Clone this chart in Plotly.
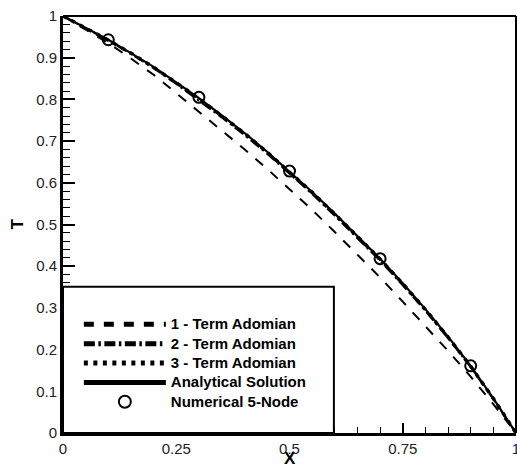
import plotly.graph_objects as go

# ---- data ----
x_curve = [0.00, 0.05, 0.10, 0.15, 0.20, 0.25, 0.30, 0.35, 0.40, 0.45, 0.50,
           0.55, 0.60, 0.65, 0.70, 0.75, 0.80, 0.85, 0.90, 0.95, 1.00]
t_term1 = [1.000, 0.968, 0.935, 0.898, 0.859, 0.815, 0.771, 0.726, 0.681, 0.634, 0.585,
           0.535, 0.482, 0.428, 0.373, 0.315, 0.256, 0.197, 0.135, 0.069, 0.000]
t_term2 = [1.000, 0.971, 0.941, 0.909, 0.875, 0.837, 0.798, 0.757, 0.715, 0.670, 0.622,
           0.573, 0.521, 0.468, 0.413, 0.354, 0.293, 0.227, 0.158, 0.081, 0.000]
t_term3 = [1.000, 0.972, 0.942, 0.911, 0.877, 0.840, 0.802, 0.761, 0.719, 0.674, 0.626,
           0.577, 0.525, 0.472, 0.417, 0.358, 0.296, 0.230, 0.160, 0.083, 0.000]
t_exact = [1.000, 0.972, 0.943, 0.911, 0.878, 0.841, 0.803, 0.762, 0.720, 0.675, 0.627,
           0.578, 0.526, 0.473, 0.418, 0.359, 0.297, 0.231, 0.161, 0.083, 0.000]
x_num = [0.1, 0.3, 0.5, 0.7, 0.9]
t_num = [0.943, 0.805, 0.628, 0.418, 0.161]

names = ["1 - Term Adomian", "2 - Term Adomian", "3 - Term Adomian",
         "Analytical Solution", "Numerical 5-Node"]
x_ticks = [0, 0.25, 0.5, 0.75, 1]
x_tick_text = ["0", "0.25", "0.5", "0.75", "1"]
y_ticks = [0, 0.1, 0.2, 0.3, 0.4, 0.5, 0.6, 0.7, 0.8, 0.9, 1]
y_tick_text = ["0", "0.1", "0.2", "0.3", "0.4", "0.5", "0.6", "0.7", "0.8", "0.9", "1"]

FONT = "Liberation Sans, Arial, sans-serif"


def lg(name):
    return "<b><span style='font-size:15px'>" + name + "</span></b>"


fig = go.Figure()
fig.add_trace(go.Scatter(x=x_curve, y=t_term1, mode="lines", name=lg(names[0]),
                         line=dict(color="black", width=2, dash="10px,10px")))
fig.add_trace(go.Scatter(x=x_curve, y=t_term2, mode="lines", name=lg(names[1]),
                         line=dict(color="black", width=2, dash="11px,3.5px,2.5px,3.5px")))
fig.add_trace(go.Scatter(x=x_curve, y=t_term3, mode="lines", name=lg(names[2]),
                         line=dict(color="black", width=3.5, dash="4px,5.5px")))
fig.add_trace(go.Scatter(x=x_curve, y=t_exact, mode="lines", name=lg(names[3]),
                         line=dict(color="black", width=2.2)))
fig.add_trace(go.Scatter(x=x_num, y=t_num, mode="markers", name=lg(names[4]),
                         marker=dict(symbol="circle-open", size=11, color="black",
                                     line=dict(width=2, color="black"))))

axis_common = dict(
    showgrid=False, zeroline=False, showline=True, linecolor="black", linewidth=3,
    ticks="inside", tickcolor="black", tickwidth=1.5, automargin=False,
    ticklabeloverflow="allow",
    tickfont=dict(family=FONT, size=15, color="#222"),
)
fig.update_xaxes(range=[0, 1], tickvals=x_ticks, ticktext=x_tick_text, ticklen=10,
                 minor=dict(dtick=0.05, ticks="inside", ticklen=6, tickwidth=1.2,
                            tickcolor="black"),
                 **axis_common)
fig.update_yaxes(range=[0, 1], tickvals=y_ticks, ticktext=y_tick_text, ticklen=12,
                 minor=dict(dtick=0.02, ticks="inside", ticklen=7, tickwidth=1.2,
                            tickcolor="black"),
                 ticklabelstandoff=0,
                 **axis_common)

# axis titles
fig.add_annotation(text="<b>X</b>", xref="paper", yref="paper", x=0.5, y=-0.061,
                   showarrow=False, xanchor="center", yanchor="middle",
                   font=dict(family=FONT, size=17, color="black"))
fig.add_annotation(text="<b>T</b>", xref="paper", yref="paper", x=-0.1015, y=0.5,
                   showarrow=False, xanchor="center", yanchor="middle", textangle=-90,
                   font=dict(family=FONT, size=17, color="black"))

# frame (top/right) and legend box
fig.add_shape(type="line", xref="paper", yref="paper", x0=0, x1=1, y0=1, y1=1,
              line=dict(color="black", width=2))
fig.add_shape(type="line", xref="paper", yref="paper", x0=1, x1=1, y0=0, y1=1,
              line=dict(color="black", width=2))
fig.add_shape(type="rect", xref="paper", yref="paper", x0=0, x1=0.598, y0=0, y1=0.351,
              line=dict(color="black", width=2), fillcolor="white", layer="above")

fig.update_layout(
    width=517, height=468,
    margin=dict(l=63, r=1, t=16, b=35),
    plot_bgcolor="white", paper_bgcolor="white",
    showlegend=True,
    legend=dict(x=0.035, y=0.296, xanchor="left", yanchor="top",
                bgcolor="rgba(0,0,0,0)", borderwidth=0, itemwidth=82,
                font=dict(family=FONT, size=12.6, color="black"),
                tracegroupgap=0, itemsizing="constant"),
)

# remove the default page margin so the figure fills the window exactly
fig.write_html(
    "out.html",
    config={"displayModeBar": False},
    post_script=("document.body.style.margin='0';"
                 "document.body.style.overflow='hidden';"
                 "document.documentElement.style.overflow='hidden';"),
)
